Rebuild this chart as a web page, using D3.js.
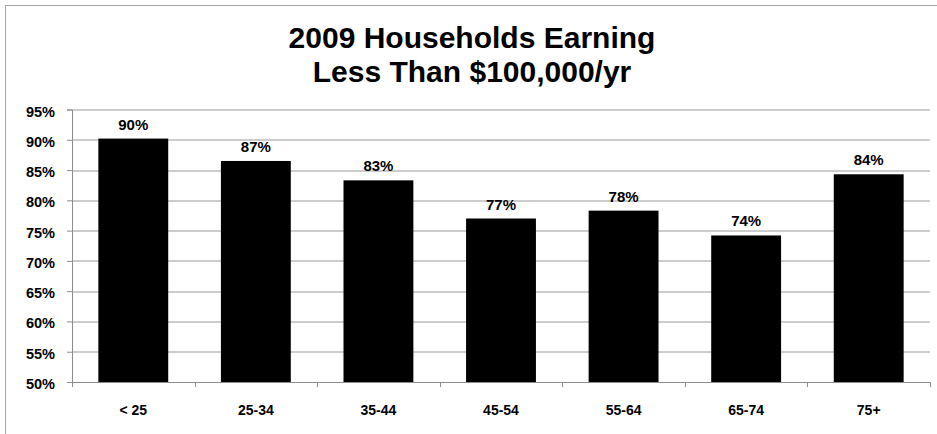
<!DOCTYPE html>
<html lang="en">
<head>
  <meta charset="UTF-8" />
  <title>2009 Households Earning Less Than $100,000/yr</title>
  <script src="https://d3js.org/d3.v7.min.js"></script>
  <style>
    body { margin: 0; background: #fff; }
    svg { display: block; font-family: "Liberation Sans", Arial, sans-serif; }
  </style>
</head>
<body>
  <svg id="chart" width="937" height="434"></svg>
  <script>
    // Data
    const ageGroups = ["< 25", "25-34", "35-44", "45-54", "55-64", "65-74", "75+"];
    const shareUnder100k = [90.2, 86.5, 83.3, 77.0, 78.3, 74.2, 84.3];
    const yTicks = [50, 55, 60, 65, 70, 75, 80, 85, 90, 95];

    const svg = d3.select("#chart"),
          margin = {top: 109.5, right: 7, bottom: 52, left: 72},
          width = 937 - margin.left - margin.right,
          height = 434 - margin.top - margin.bottom;

    // outer border
    svg.append("rect")
      .attr("x", 5.5).attr("y", 5.5)
      .attr("width", 940).attr("height", 440)
      .attr("fill", "none")
      .attr("stroke", "#a6a6a6");

    // Title
    const title = svg.append("text")
      .attr("text-anchor", "middle")
      .attr("font-size", "30px")
      .attr("font-weight", "bold")
      .attr("fill", "#000");
    title.append("tspan").attr("x", 472).attr("y", 48).text("2009 Households Earning");
    title.append("tspan").attr("x", 472).attr("y", 82).text("Less Than $100,000/yr");

    const chart = svg.append("g")
      .attr("transform", `translate(${margin.left},${margin.top})`);

    const x = d3.scaleBand()
      .domain(ageGroups)
      .range([0, width])
      .paddingInner(0.43)
      .paddingOuter(0.215);

    const y = d3.scaleLinear()
      .domain([50, 95])
      .range([height, 0]);

    // Gridlines
    chart.append("g")
      .selectAll("line")
      .data(yTicks.filter(t => t > 50))
      .enter().append("line")
        .attr("x1", 0).attr("x2", width)
        .attr("y1", d => Math.round(y(d)) + 0.5)
        .attr("y2", d => Math.round(y(d)) + 0.5)
        .attr("stroke", "#9a9a9a");

    // Y axis
    const yAxis = chart.append("g")
      .call(d3.axisLeft(y).tickValues(yTicks).tickSize(5).tickPadding(12)
        .tickFormat(d => d + "%"));
    yAxis.select(".domain").attr("stroke", "#8c8c8c");
    yAxis.selectAll(".tick line").attr("stroke", "#8c8c8c");
    yAxis.selectAll("text")
      .attr("font-size", "14.5px")
      .attr("font-weight", "bold")
      .attr("fill", "#000")
      .attr("dy", "0.45em")
      .attr("font-family", "Liberation Sans, Arial, sans-serif");

    // Bars
    chart.selectAll(".bar")
      .data(ageGroups)
      .enter().append("rect")
        .attr("class", "bar")
        .attr("x", d => x(d))
        .attr("y", (d, i) => y(shareUnder100k[i]))
        .attr("width", x.bandwidth())
        .attr("height", (d, i) => height - y(shareUnder100k[i]))
        .attr("fill", "#000");

    // Value labels
    chart.selectAll(".label")
      .data(ageGroups)
      .enter().append("text")
        .attr("class", "label")
        .attr("x", d => x(d) + x.bandwidth() / 2)
        .attr("y", (d, i) => y(shareUnder100k[i]) - 9)
        .attr("text-anchor", "middle")
        .attr("font-size", "15px")
        .attr("font-weight", "bold")
        .attr("fill", "#000")
        .text((d, i) => Math.round(shareUnder100k[i]) + "%");

    // X axis with ticks between categories
    const xAxis = chart.append("g")
      .attr("transform", `translate(0,${height})`);
    xAxis.append("line")
      .attr("x1", 0).attr("x2", width)
      .attr("y1", 0.5).attr("y2", 0.5)
      .attr("stroke", "#8c8c8c");
    xAxis.selectAll(".xtick")
      .data(d3.range(ageGroups.length + 1))
      .enter().append("line")
        .attr("x1", i => Math.round(i * width / ageGroups.length) + 0.5)
        .attr("x2", i => Math.round(i * width / ageGroups.length) + 0.5)
        .attr("y1", 0).attr("y2", 5)
        .attr("stroke", "#8c8c8c");
    xAxis.selectAll(".xlabel")
      .data(ageGroups)
      .enter().append("text")
        .attr("x", d => x(d) + x.bandwidth() / 2)
        .attr("y", 33)
        .attr("text-anchor", "middle")
        .attr("font-size", "14px")
        .attr("font-weight", "bold")
        .attr("fill", "#000")
        .text(d => d);
  </script>
</body>
</html>
